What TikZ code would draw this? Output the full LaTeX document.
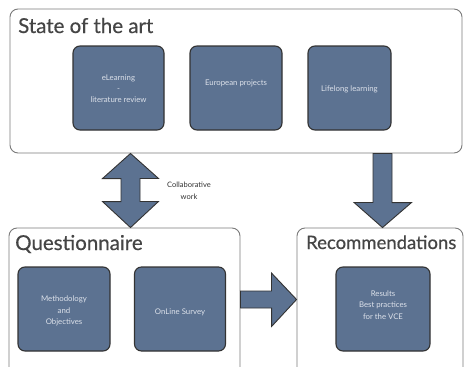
\documentclass[tikz,border=0pt]{standalone}
\usepackage{fontspec}
\setmainfont{Lato}
\newfontfamily\titlefont[FakeBold=0.5]{Lato}
\usetikzlibrary{calc}
\definecolor{boxfill}{HTML}{5C7291}
\definecolor{boxline}{HTML}{333333}
\definecolor{frameline}{HTML}{7A7A7A}
\definecolor{titlegray}{HTML}{454545}
\definecolor{lighttext}{HTML}{DCE1EA}
\definecolor{labelgray}{HTML}{333333}
\begin{document}
\begin{tikzpicture}[x=1pt,y=-1pt,
  frame/.style={draw=frameline, line width=0.9pt, rounded corners=8pt, fill=white, inner sep=0pt},
  bluebox/.style={draw=boxline, line width=1.1pt, fill=boxfill, rounded corners=7pt, minimum height=84pt, inner sep=0pt},
  titletext/.style={text=titlegray, anchor=base west, inner sep=0pt},
  itext/.style={font=\fontsize{7.8}{11.5}\selectfont, text=lighttext, align=center, inner sep=0pt},
  blockarrow/.style={draw=boxline, line width=0.9pt, fill=boxfill, line join=miter}]
\useasboundingbox (0,0) rectangle (464,367);
\clip (0,0) rectangle (464,367);
% frames
\node[frame, minimum width=452pt, minimum height=144pt] (sota) at (236,81) {};
\node[frame, minimum width=231pt, minimum height=150pt] (quest) at (124.5,303) {};
\node[frame, minimum width=166pt, minimum height=150pt] (recom) at (380,303) {};
% titles
\node[titletext, font=\titlefont\fontsize{20.5}{22}\selectfont] (t1) at (18,33) {State of the art};
\node[titletext, font=\titlefont\fontsize{20.5}{22}\selectfont] (t2) at (15,250) {Questionnaire};
\node[titletext, font=\titlefont\fontsize{18.5}{22}\selectfont] (t3) at (306,249) {Recommendations};
% inner boxes
\node[bluebox, minimum width=91pt] (elearn) at (118.5,88) {};
\node[bluebox, minimum width=92pt] (europe) at (236,88) {};
\node[bluebox, minimum width=83pt] (lifelong) at (349.5,88) {};
\node[bluebox, minimum width=92pt] (method) at (64,309) {};
\node[bluebox, minimum width=91pt] (survey) at (180,309) {};
\node[bluebox, minimum width=94pt] (results) at (383,309) {};
% inner texts
\node[itext, font=\fontsize{7.8}{11}\selectfont] (elearnT) at (118.5,89) {eLearning\\-\\literature review};
\node[itext] (europeT) at (236,83) {European projects};
\node[itext] (lifelongT) at (349.5,89) {Lifelong learning};
\node[itext] (methodT) at (64,311) {Methodology\\and\\Objectives};
\node[itext] (surveyT) at (180,312) {OnLine Survey};
\node[itext] (resultsT) at (383,305) {Results\\Best practices\\for the VCE};
% label
\node[font=\fontsize{7.5}{12}\selectfont, text=labelgray, align=center, inner sep=0pt] (collab) at (189,191) {Collaborative\\work};
% arrows
\coordinate (dtop) at (sota.south -| 130.5,0);
\coordinate (dbot) at (quest.north -| 130.5,0);
\draw[blockarrow] (dtop) -- ++(28,25) -- ++(-18.5,0) -- ++(0,23) -- ++(18.5,0) -- (dbot)
  -- ++(-28,-26) -- ++(18.5,0) -- ++(0,-23) -- ++(-18.5,0) -- cycle;
\coordinate (vtop) at (sota.south -| 382.5,0);
\coordinate (vtip) at (recom.north -| 382.5,0);
\draw[blockarrow] ($(vtop)+(-9.5,0)$) -- ++(0,49) -- ++(-19,0) -- (vtip) -- ++(29,-25) -- ++(-19.5,0) -- ++(0,-49) -- cycle;
\coordinate (hstart) at (quest.east |- 0,299.5);
\coordinate (htip) at (recom.west |- 0,299.5);
\draw[blockarrow] ($(hstart)+(0,-8.5)$) -- ++(31,0) -- ++(0,-18) -- (htip) -- ++(-25,27) -- ++(0,-18.5) -- ++(-31,0) -- cycle;
\end{tikzpicture}
\end{document}
